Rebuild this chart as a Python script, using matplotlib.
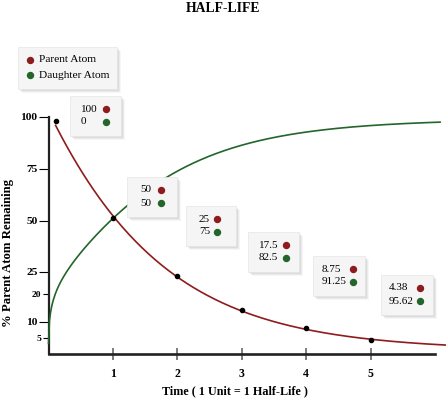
import numpy as np
import matplotlib
matplotlib.use("Agg")
import matplotlib.pyplot as plt
from matplotlib.patches import Rectangle
from matplotlib.transforms import Affine2D

W, H = 446, 398

# values shown in the boxes
parent_pct = [100, 50, 25, 17.5, 8.75, 4.38]
daughter_pct = [0, 50, 75, 82.5, 91.25, 95.62]

# dots on the parent curve
dot_time = [0.11, 1, 2, 3, 4, 5]
dot_pct = [98.1, 51.2, 24.0, 14.2, 8.1, 4.5]

# curve samples
parent_t = [0.11, 0.28, 0.54, 0.97, 1.47, 1.99, 2.40, 3.01, 3.44, 3.98, 4.42, 5.01, 6.17]
parent_v = [98.1, 87.3, 71.3, 51.2, 35.6, 24.0, 20.2, 14.2, 10.6, 8.1, 6.0, 4.5, 2.9]
daughter_t = [0.0, 0.155, 0.385, 0.955, 1.42, 1.89, 2.40, 2.92, 3.44, 4.06, 4.53, 5.15, 6.08]
daughter_v = [3.4, 20.2, 30.7, 51.2, 63.2, 71.3, 79.3, 85.7, 89.7, 92.8, 94.4, 96.4, 97.3]

x_ticks = [1, 2, 3, 4, 5]
y_major = [10, 25, 50, 75, 100]
y_minor = [5, 20]

# the y axis of the drawing is not linear: tick value -> height in px
scale_vals = [0, 5, 10, 20, 25, 50, 75, 100]
scale_pos = [0, 15.7, 32.3, 60, 82.3, 133.3, 185, 237.3]

RED = "#8e1c1c"
GREEN = "#23652a"
SERIF = "Liberation Serif"


def fwd(v):
    return np.interp(v, scale_vals, scale_pos)


def inv(p):
    return np.interp(p, scale_pos, scale_vals)


# smooth least-squares fit of the read samples, done in drawn (pixel) height
def smooth_parent(tk, vk):
    c = np.polyfit(tk, np.log(fwd(vk)), 3)
    ts = np.linspace(tk[0], tk[-1], 300)
    return ts, inv(np.exp(np.polyval(c, ts)))


def smooth_daughter(tk, vk):
    top = scale_pos[-1]
    w = np.ones(len(tk))
    w[0] = 6
    c = np.polyfit(np.sqrt(tk), np.log(top - fwd(vk)), 4, w=w)
    ts = np.linspace(tk[0], tk[-1], 400) ** 1.0
    return ts, inv(top - np.exp(np.polyval(c, np.sqrt(ts))))


fig = plt.figure(figsize=(W / 100, H / 100), dpi=100)
px = Affine2D().scale(1 / W, -1 / H).translate(0, 1) + fig.transFigure

ax = fig.add_axes([48.5 / W, (H - 354) / H, (435 - 48.5) / W, 237.3 / H])
ax.set_yscale("function", functions=(fwd, inv))
ax.set_xlim(0, (435 - 48.5) / 64.4)
ax.set_ylim(0, 100)

for s in ["top", "right"]:
    ax.spines[s].set_visible(False)
ax.spines["left"].set_linewidth(1.6)
ax.spines["left"].set_color("#222222")
ax.spines["bottom"].set_linewidth(1.9)
ax.spines["bottom"].set_color("#222222")

ax.set_xticks(x_ticks, [str(v) for v in x_ticks])
ax.tick_params(axis="x", direction="inout", length=8, width=1.2, color="#666666", pad=6,
               labelsize=8.5)
ax.set_yticks(y_major, [str(v) for v in y_major])
ax.set_yticks(y_minor, [str(v) for v in y_minor], minor=True)
ax.tick_params(axis="y", which="major", length=7, width=0.8, pad=1, labelsize=8.2)
ax.tick_params(axis="y", which="minor", length=4, width=0.8, pad=1, labelsize=6.8)
for lab in ax.get_xticklabels() + ax.get_yticklabels() + ax.get_yticklabels(minor=True):
    lab.set_family(SERIF)
    lab.set_fontweight("bold")

# curves
tp, vp = smooth_parent(parent_t, parent_v)
ax.plot(tp, vp, color=RED, lw=1.2, clip_on=False, zorder=4)
td, vd = smooth_daughter(daughter_t, daughter_v)
ax.plot(td, vd, color=GREEN, lw=1.2, clip_on=False, zorder=4)
ax.plot(dot_time, dot_pct, "o", color="black", ms=3, clip_on=False, zorder=5)


def shadow_box(left, top, w, h):
    for k, a in [(4, 0.05), (3, 0.07), (2, 0.09), (1, 0.1)]:
        fig.add_artist(Rectangle((left + k, top + k), w, h, transform=px,
                                 facecolor="#555555", edgecolor="none", alpha=a, zorder=1))
    fig.add_artist(Rectangle((left, top), w, h, transform=px, facecolor="#f5f5f5",
                             edgecolor="#e6e6e6", lw=0.5, zorder=2))


def dot(x, y, c):
    fig.add_artist(plt.Line2D([x], [y], transform=px, marker="o", ms=4.3, color=c,
                              lw=0, zorder=3))


# legend
shadow_box(18, 47, 99, 42)
for y, c, lab in [(60, RED, "Parent Atom"), (75, GREEN, "Daughter Atom")]:
    dot(30, y, c)
    fig.text(39, y, lab, transform=px, family=SERIF, fontsize=8.2, va="center", zorder=3)

# value boxes: left, top, width, text dx, dot dx
box_layout = [(70, 96, 51, 11, 36), (127, 177, 50, 13, 34), (186, 206, 50, 13, 31),
              (248, 232, 51, 11, 38), (313, 256, 52, 9, 40), (381, 275, 52, 8, 39)]
for (l, t, w, tx, dx), pv, dv in zip(box_layout, parent_pct, daughter_pct):
    shadow_box(l, t, w, 40)
    for y, v, c in [(t + 13, pv, RED), (t + 26, dv, GREEN)]:
        fig.text(l + tx, y, f"{v:g}", transform=px, family=SERIF, fontsize=8,
                 va="center", zorder=3)
        dot(l + dx, y, c)

fig.text(223, 9, "HALF-LIFE", transform=px, family=SERIF, fontweight="bold",
         fontsize=9.8, ha="center", va="center")
fig.text(234.5, 391, "Time ( 1 Unit = 1 Half-Life )", transform=px, family=SERIF,
         fontweight="bold", fontsize=8.7, ha="center", va="center")
fig.text(8, 253, "% Parent Atom Remaining", transform=px, family=SERIF,
         fontweight="bold", fontsize=9.2, ha="center", va="center", rotation=90)

fig.savefig("out.png", dpi=100)
